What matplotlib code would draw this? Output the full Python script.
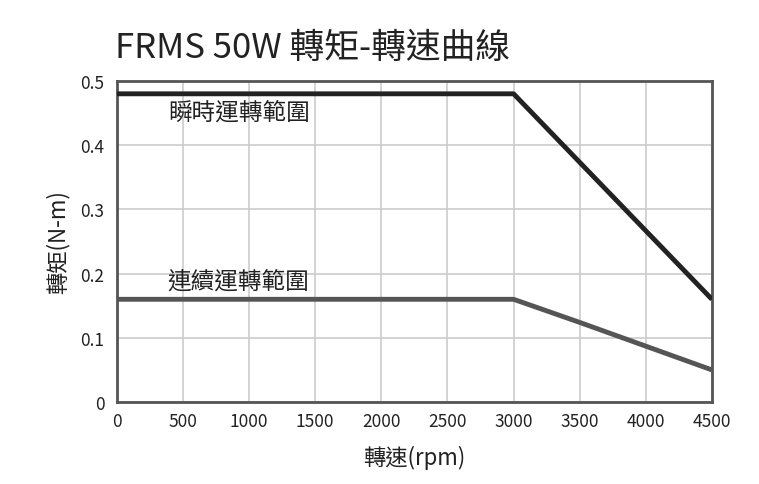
import matplotlib.pyplot as plt
from matplotlib.ticker import FuncFormatter

plt.rcParams['font.family'] = ['Noto Sans CJK TC', 'DejaVu Sans']

# 瞬時運轉範圍 (peak)
peak_rpm = [0, 3000, 4500]
peak_torque = [0.48, 0.48, 0.16]

# 連續運轉範圍 (continuous)
cont_rpm = [0, 3000, 3500, 4000, 4500]
cont_torque = [0.16, 0.16, 0.124, 0.087, 0.05]

xticks = [0, 500, 1000, 1500, 2000, 2500, 3000, 3500, 4000, 4500]
yticks = [0, 0.1, 0.2, 0.3, 0.4, 0.5]

fig = plt.figure(figsize=(7.59, 4.85), dpi=100)
ax = fig.add_axes([0.154, 0.169, 0.784, 0.662])

ax.plot(peak_rpm, peak_torque, color='#222222', lw=3.5, solid_capstyle='butt', zorder=3)
ax.plot(cont_rpm, cont_torque, color='#555555', lw=3.5, solid_capstyle='butt', zorder=3)

ax.text(385, 0.452, '瞬時運轉範圍', fontsize=17, color='#222222', va='center')
ax.text(385, 0.188, '連續運轉範圍', fontsize=17, color='#222222', va='center')

ax.set_xlim(0, 4500)
ax.set_ylim(0, 0.5)
ax.set_xticks(xticks)
ax.set_yticks(yticks)
ax.yaxis.set_major_formatter(FuncFormatter(lambda v, p: '0' if v == 0 else f'{v:.1f}'))
ax.grid(True, color='#cccccc', lw=1.2)
ax.set_axisbelow(True)
ax.tick_params(length=0, labelsize=12.5, colors='#222222')
ax.tick_params(axis='y', pad=9)
ax.tick_params(axis='x', pad=7)
for s in ax.spines.values():
    s.set_color('#555555')
    s.set_linewidth(2)

ax.set_xlabel('轉速(rpm)', fontsize=16, color='#222222', labelpad=11)
ax.set_ylabel('轉矩(N-m)', fontsize=16, color='#222222', labelpad=8)

fig.text(0.151, 0.90, 'FRMS 50W 轉矩-轉速曲線', fontsize=25, color='#222222', va='center')

fig.savefig('out.png', dpi=100)
